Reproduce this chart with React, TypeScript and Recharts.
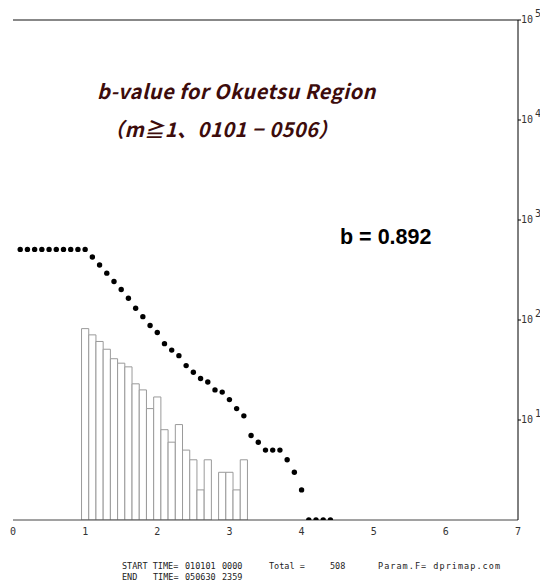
import { Bar, ComposedChart, Line, ReferenceLine, XAxis, YAxis } from "recharts";

// magnitude bins (0.1 step) and the counts
const magnitudes = [
  0.1, 0.2, 0.3, 0.4, 0.5, 0.6, 0.7, 0.8, 0.9, 1.0,
  1.1, 1.2, 1.3, 1.4, 1.5, 1.6, 1.7, 1.8, 1.9, 2.0,
  2.1, 2.2, 2.3, 2.4, 2.5, 2.6, 2.7, 2.8, 2.9, 3.0,
  3.1, 3.2, 3.3, 3.4, 3.5, 3.6, 3.7, 3.8, 3.9, 4.0,
  4.1, 4.2, 4.3, 4.4,
];

// N(>=M), cumulative
const cumulativeCounts = [
  508, 508, 508, 508, 508, 508, 508, 508, 508, 508,
  426, 355, 294, 243, 202, 165, 131, 108, 88, 75,
  58, 50, 44, 35, 30, 26, 24, 20, 19, 16,
  13, 11, 7, 6, 5, 5, 5, 4, 3, 2,
  1, 1, 1, 1,
];

// events per bin (histogram)
const binCounts = [
  0, 0, 0, 0, 0, 0, 0, 0, 0, 82,
  71, 61, 51, 41, 37, 34, 23, 20, 13, 17,
  8, 6, 9, 5, 4, 2, 4, 1, 3, 3,
  2, 4, 1, 1, 0, 0, 1, 1, 1, 1,
  0, 0, 0, 1,
];

const xTicks = [0, 1, 2, 3, 4, 5, 6, 7];
const decadeTicks = [10, 100, 1000, 10000, 100000];
const minorTicks = [
  1, 2, 3, 4, 5, 6, 7, 8, 9,
  10, 20, 30, 40, 50, 60, 70, 80, 90,
  100, 200, 300, 400, 500, 600, 700, 800, 900,
  1000, 2000, 3000, 4000, 5000, 6000, 7000, 8000, 9000,
  10000, 20000, 30000, 40000, 50000, 60000, 70000, 80000, 90000,
  100000,
];

const data = magnitudes.map((m, i) => ({
  m,
  cum: cumulativeCounts[i],
  n: binCounts[i] > 0 ? binCounts[i] : null,
}));

const mono = "'DejaVu Sans Mono', monospace";

function PowerTick(props: any) {
  const { x, y, payload } = props;
  const exp = Math.round(Math.log10(payload.value));
  return (
    <text x={x} y={y} fontFamily={mono} fontSize={10} fill="#333">
      <tspan x={x} dy={3}>10</tspan>
      <tspan dx={2} dy={-6}>{exp}</tspan>
    </text>
  );
}

const noLabel = () => <g />;

export default function App() {
  return (
    <div style={{ position: "absolute", left: 0, top: 0, width: 540, height: 581, background: "#fff" }}>
      <ComposedChart width={540} height={581} data={data} margin={{ top: 20, right: 0, bottom: 0, left: 13 }}>
        <XAxis
          dataKey="m"
          type="number"
          domain={[0, 7]}
          ticks={xTicks}
          interval={0}
          height={61}
          tickLine={false}
          tickMargin={2}
          axisLine={{ stroke: "#444" }}
          tick={{ fontSize: 10, fontFamily: mono, fill: "#333" }}
        />
        <YAxis
          yAxisId="lminor"
          orientation="left"
          mirror
          width={0}
          scale="log"
          domain={[1, 100000]}
          allowDataOverflow
          ticks={minorTicks}
          interval={0}
          tickSize={3}
          tick={noLabel}
          tickLine={{ stroke: "#777" }}
          axisLine={{ stroke: "#000" }}
        />
        <YAxis
          yAxisId="lmajor"
          orientation="left"
          width={0}
          scale="log"
          domain={[1, 100000]}
          allowDataOverflow
          ticks={decadeTicks}
          interval={0}
          tickSize={3}
          tick={noLabel}
          tickLine={{ stroke: "#000" }}
          axisLine={false}
        />
        <YAxis
          yAxisId="rminor"
          orientation="right"
          mirror
          width={0}
          scale="log"
          domain={[1, 100000]}
          allowDataOverflow
          ticks={minorTicks}
          interval={0}
          tickSize={3}
          tick={noLabel}
          tickLine={{ stroke: "#777" }}
          axisLine={false}
        />
        <YAxis
          yAxisId="main"
          orientation="right"
          width={22}
          scale="log"
          domain={[1, 100000]}
          allowDataOverflow
          ticks={decadeTicks}
          interval={0}
          tickSize={3}
          tickMargin={0}
          tick={<PowerTick />}
          tickLine={{ stroke: "#000" }}
          axisLine={{ stroke: "#000" }}
        />
        <ReferenceLine yAxisId="main" y={100000} stroke="#888" strokeWidth={2} />
        <Bar
          yAxisId="main"
          dataKey="n"
          barSize={7.2}
          fill="#fff"
          stroke="#9a9a9a"
          strokeWidth={1}
          isAnimationActive={false}
        />
        <Line
          yAxisId="main"
          dataKey="cum"
          stroke="transparent"
          dot={{ r: 2.7, fill: "#000", stroke: "none" }}
          activeDot={false}
          isAnimationActive={false}
        />
      </ComposedChart>
      <svg width={540} height={581} style={{ position: "absolute", left: 0, top: 0, pointerEvents: "none" }}>
        <g fontFamily="'Noto Sans CJK JP', 'Noto Sans', sans-serif" fontWeight="bold" fontStyle="italic" fill="#3d0c0c" fontSize={20} letterSpacing={0.5}>
          <text x={97} y={99}>b-value for Okuetsu Region</text>
          <text x={104} y={137}>（m≧1、0101 − 0506）</text>
        </g>
        <text x={340} y={244} fontFamily="'Liberation Sans', Arial, sans-serif" fontWeight="bold" fontSize={21.5} fill="#000">
          b = 0.892
        </text>
        <g fontFamily={mono} fontSize={8.5} fill="#222">
          <text x={122} y={569}>START TIME=</text>
          <text x={185} y={569}>010101</text>
          <text x={222} y={569}>0000</text>
          <text x={269} y={569}>Total =</text>
          <text x={330} y={569}>508</text>
          <text x={378} y={569} textLength={122} lengthAdjust="spacing">Param.F= dprimap.com</text>
          <text x={122} y={580}>END</text>
          <text x={153} y={580}>TIME=</text>
          <text x={185} y={580}>050630</text>
          <text x={222} y={580}>2359</text>
        </g>
      </svg>
    </div>
  );
}
